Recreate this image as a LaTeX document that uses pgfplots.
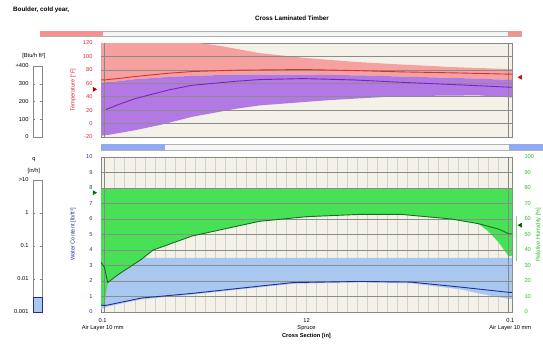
\documentclass[border=0pt]{standalone}
\usepackage{pgfplots}
\pgfplotsset{compat=1.18}
\usepackage{fontspec}
\setmainfont{Liberation Sans}
\definecolor{bg}{RGB}{244,242,232}
\definecolor{redband}{RGB}{247,160,160}
\definecolor{redline}{RGB}{225,45,45}
\definecolor{purband}{RGB}{178,120,228}
\definecolor{purline}{RGB}{130,30,190}
\definecolor{grnband}{RGB}{70,225,85}
\definecolor{grnline}{RGB}{25,110,30}
\definecolor{bluband}{RGB}{168,200,240}
\definecolor{bluline}{RGB}{35,45,150}
\definecolor{tred}{RGB}{220,40,40}
\definecolor{tblue}{RGB}{50,50,160}
\definecolor{tgreen}{RGB}{40,190,40}
\definecolor{frame}{RGB}{135,135,135}
\newcommand{\sm}{\fontsize{5.7}{6.5}\selectfont}
\newcommand{\ttl}{\fontsize{6.3}{7}\selectfont}
\pgfplotsset{
  mybase/.style={scale only axis, width=411pt, xmin=0, xmax=12.2,
    axis background/.style={fill=bg},
    axis line style={frame, line width=0.9pt},
    minor xtick={0.1,0.4,...,12.1}, xminorgrids,
    minor grid style={black!18, line width=0.35pt},
    major tick length=0pt, minor tick length=0pt,
    clip=false,
    tick label style={font=\sm},
    label style={font=\sm},
    /pgf/number format/assume math mode=true},
  scalebase/.style={scale only axis, width=9pt, xmin=0, xmax=1, xtick=\empty,
    axis background/.style={fill=white},
    axis line style={frame, line width=0.6pt},
    major tick length=2pt, tick style={frame}, minor tick num=0, yminorticks=false,
    tick label style={font=\sm}, yticklabel style={xshift=-1pt},
    clip=false,
    /pgf/number format/assume math mode=true}
}
\begin{document}
\begin{tikzpicture}
\useasboundingbox (0,0) rectangle (543pt,-351pt);
% titles
\node[anchor=west, font=\bfseries\ttl, inner sep=0pt] at (13pt,-10pt) {Boulder, cold year,};
\node[font=\bfseries\ttl] at (292pt,-18pt) {Cross Laminated Timber};
% progress bars
\fill[black!4] (40pt,-31pt) rectangle (521pt,-36pt);
\draw[black!30, line width=0.4pt] (40pt,-31pt) rectangle (521pt,-36pt);
\fill[redband!90!red] (40pt,-31pt) rectangle (103pt,-36pt);
\fill[redband!90!red] (508pt,-31pt) rectangle (521pt,-36pt);
\fill[black!4] (101pt,-144pt) rectangle (543pt,-150pt);
\draw[black!30, line width=0.4pt] (101pt,-144pt) rectangle (545pt,-150pt);
\fill[bluband!85!blue] (101pt,-144pt) rectangle (165pt,-150pt);
\fill[bluband!85!blue] (509pt,-144pt) rectangle (543pt,-150pt);

% ---------------- top axis: temperature
\begin{axis}[mybase, at={(101pt,-137pt)}, anchor=south west, height=94pt,
  ymin=-20, ymax=120, ytick={-20,0,...,120}, xtick=\empty,
  yticklabel style={text=tred, xshift=-5pt},
  ylabel={Temperature [°F]},
  ylabel style={text=tred, at={(axis description cs:-0.068,0.5)}, anchor=center}]
\addplot[fill=redband, draw=none] coordinates {
 (0,120)(2.9,120)(3.5,116)(4.7,105)(6.0,98)(7.5,92)(8.9,88)(10.5,84)(12.2,81)
 (12.2,65)(10.5,68)(8.9,70)(8,71.5)(6,73)(4,73)(2.7,71)(2,69.5)(1,66)(0.5,63)(0,61)} -- cycle;
\addplot[fill=purband, draw=none] coordinates {
 (0,61)(0.5,63)(1,66)(2,69.5)(2.7,71)(4,73)(6,73)(8,71.5)(8.9,70)(10.5,68)(12.2,65)
 (12.2,39)(11.2,42)(8.9,41)(6.8,35)(6,32)(4.7,27)(4,22)(2.7,10)(1.76,-2)(1,-10)(0.2,-17)(0,-18)} -- cycle;
\pgfplotsinvokeforeach{0,20,40,60,80,100}{
  \draw[black!45, line width=0.5pt] (axis cs:0,#1) -- (axis cs:12.2,#1);}
\draw[frame, line width=0.5pt] (axis cs:0.1,-20) -- (axis cs:0.1,120);
\draw[frame, line width=0.5pt] (axis cs:12.1,-20) -- (axis cs:12.1,120);
\addplot[redline, line width=0.9pt] coordinates {
 (0,65)(0.1,65)(0.5,67)(1,70)(2,75)(2.7,77.5)(4,79.5)(6,80.5)(7.5,79)(8.9,77)(10.5,75.5)(12.2,73.5)};
\addplot[purline, line width=0.9pt] coordinates {
 (0.15,21)(0.5,28)(1,37)(2,50)(2.7,57)(4,63)(4.7,65.5)(6,67)(7.5,65)(8.9,61.5)(10.5,58)(12.2,54)};
\addplot[only marks, mark=triangle*, mark size=2.3pt, color=red!60!black, mark options={rotate=-90}] coordinates {(-0.2,51)};
\addplot[only marks, mark=triangle*, mark size=2.3pt, color=red!85!black, mark options={rotate=90}] coordinates {(12.45,69)};
\end{axis}

% ---------------- bottom axis: water content
\begin{axis}[mybase, at={(101pt,-312pt)}, anchor=south west, height=155pt,
  ymin=0, ymax=10, ytick={0,1,...,10},
  xtick={0.05,6.1,12.15},
  xticklabels={{0.1\\Air Layer 10 mm},{12\\Spruce},{0.1\\Air Layer 10 mm}},
  xticklabel style={align=center, yshift=-3pt},
  yticklabel style={text=tblue, xshift=-5pt},
  ylabel={Water Content [lb/ft³]},
  ylabel style={text=tblue, at={(axis description cs:-0.068,0.5)}, anchor=center},
  xlabel={\bfseries Cross Section [in]},
  xlabel style={yshift=3.5pt}]
\addplot[fill=bluband, draw=none] coordinates {
 (0,3.5)(12.2,3.5)
 (12.2,0.85)(12.1,0.85)(11.2,1.2)(10.7,1.45)(9.2,1.85)(7.7,1.92)(5.7,1.82)(4.2,1.48)(2.7,1.12)(1.2,0.82)(0.2,0.35)(0.1,0.25)(0,0.2)} -- cycle;
\addplot[fill=grnband, draw=none] coordinates {
 (0,8)(12.2,8)
 (12.2,3.6)(12.1,3.6)(12.0,3.9)(11.8,4.5)(11.5,5.2)(11.2,5.7)(10.4,6.0)(8.9,6.3)(7.7,6.3)(6.1,6.15)(4.7,5.85)(2.7,4.9)(1.55,4.0)(1.2,3.4)(0.5,2.4)(0.2,1.9)(0.1,0.5)(0,0.3)} -- cycle;
\pgfplotsinvokeforeach{1,2,3,4,5,6,7,8,9}{
  \draw[black!45, line width=0.5pt] (axis cs:0,#1) -- (axis cs:12.2,#1);}
\draw[frame, line width=0.5pt] (axis cs:0.1,0) -- (axis cs:0.1,10);
\draw[frame, line width=0.5pt] (axis cs:12.1,0) -- (axis cs:12.1,10);
\addplot[grnline, line width=0.9pt] coordinates {
 (0,3.2)(0.1,2.9)(0.2,1.9)(0.5,2.4)(1.2,3.4)(1.55,4.0)(2.7,4.9)(4.7,5.85)(6.1,6.15)(7.7,6.3)(8.9,6.3)(10.4,6.0)(11.2,5.7)(11.8,5.35)(12.1,5.05)(12.2,5.05)};
\addplot[bluline, line width=0.9pt] coordinates {
 (0,0.45)(0.1,0.42)(0.2,0.45)(1.2,0.9)(2.7,1.2)(4.2,1.55)(5.7,1.9)(7.7,1.97)(9.2,1.93)(10.7,1.6)(12.1,1.27)(12.2,1.27)};
\addplot[only marks, mark=triangle*, mark size=2.3pt, color=green!45!black, mark options={rotate=-90}] coordinates {(-0.2,7.7)};
\addplot[only marks, mark=triangle*, mark size=2.3pt, color=green!35!black, mark options={rotate=90}] coordinates {(12.45,5.6)};
\addplot[tgreen!60, line width=0.6pt] coordinates {(12.33,3.3)(12.33,6.2)};
\end{axis}
\begin{axis}[scale only axis, width=411pt, height=155pt, at={(101pt,-312pt)}, anchor=south west,
  xmin=0, xmax=12.2, ymin=0, ymax=100, axis x line=none, axis y line*=right,
  axis line style={draw=none}, ytick={0,10,...,100}, major tick length=0pt,
  tick label style={font=\sm}, label style={font=\sm},
  yticklabel style={text=tgreen, xshift=9pt},
  ylabel={Relative Humidity [\%]},
  ylabel style={text=tgreen, at={(axis description cs:1.064,0.5)}, anchor=center},
  /pgf/number format/assume math mode=true]
\end{axis}

% ---------------- left scales
\begin{axis}[scalebase, at={(33pt,-137pt)}, anchor=south west, height=71pt,
  ymin=0, ymax=400, ytick={0,100,...,400}, yticklabels={0,100,200,300,+400}]
\node[font=\sm, anchor=south] at (rel axis cs:0.1,1.05) {[Btu/h ft²]};
\end{axis}
\begin{axis}[scalebase, at={(33pt,-312pt)}, anchor=south west, height=132pt,
  ymode=log, ymin=0.001, ymax=10, ytick={0.001,0.01,0.1,1,10},
  yticklabels={0.001,0.01,0.1,1,>10}]
\addplot[fill=bluband, draw=bluline, line width=0.4pt] coordinates {(0,0.001)(1,0.001)(1,0.0028)(0,0.0028)} -- cycle;
\node[font=\sm, anchor=south] at (rel axis cs:0.1,1.02) {[in/h]};
\node[font=\sm, anchor=south] at (rel axis cs:0.1,1.11) {q};
\end{axis}
\end{tikzpicture}
\end{document}
